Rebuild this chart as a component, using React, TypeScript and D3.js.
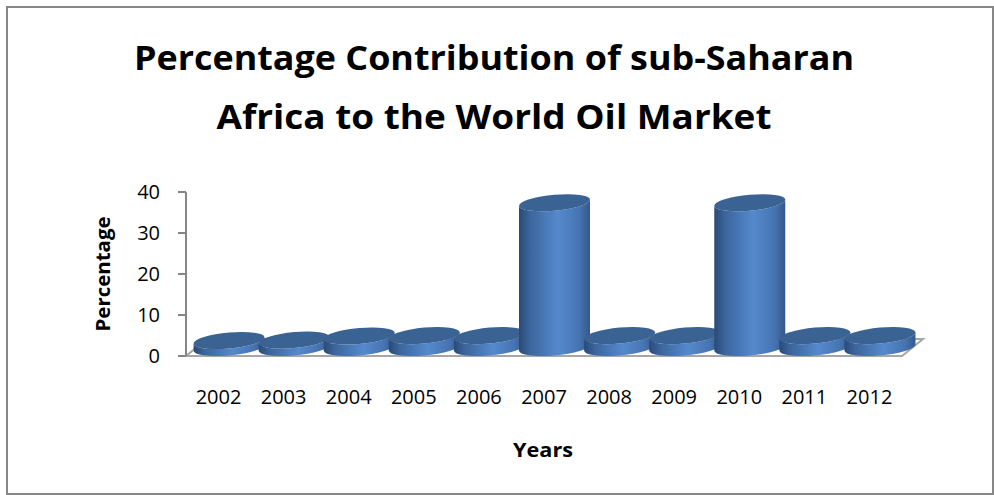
import React from "react";
import * as d3 from "d3";

const years = ["2002", "2003", "2004", "2005", "2006", "2007", "2008", "2009", "2010", "2011", "2012"];
const percentages = [1.7, 1.8, 2.8, 2.9, 2.9, 35.3, 2.9, 2.9, 35.3, 2.9, 2.9];
const yTicks = [0, 10, 20, 30, 40];
const titleLines = ["Percentage Contribution of sub-Saharan", "Africa to the World Oil Market"];
const titleWidths = [720, 555];

const W = 994;
const H = 495;
const FONT = "'Open Sans', 'Liberation Sans', sans-serif";

export default function App() {
  const x = d3.scaleBand<string>().domain(years).range([186, 902]).padding(0);
  const y = d3.scaleLinear().domain([0, 40]).range([356, 192]);
  const dx = 21;
  const dy = -17;
  const rx = 35.5;
  const ry = 8;
  const bw = x.bandwidth();

  const cyl = (v: number, i: number) => {
    const cx = (x(years[i]) as number) + bw / 2 + dx / 2;
    const baseY = y(0) + dy / 2;
    const h = y(0) - y(v);
    const side = `M${-rx},${-h} L${-rx},0 A${rx},${ry} 0 0 0 ${rx},0 L${rx},${-h} A${rx},${ry} 0 0 1 ${-rx},${-h} Z`;
    return (
      <g key={years[i]} transform={`translate(${cx},${baseY}) skewY(-5)`}>
        <path d={side} fill="url(#sideGrad)" />
        <ellipse cx={0} cy={-h} rx={rx} ry={ry} fill="#3a6293" />
      </g>
    );
  };

  const x0 = 186, x1 = 902, yb = y(0);
  const floor = `M${x0},${yb} L${x1},${yb} L${x1 + dx},${yb + dy} L${x0 + dx},${yb + dy} Z`;

  return (
    <svg width={W} height={H} style={{ position: "absolute", left: 0, top: 0, background: "#fff" }}>
      <defs>
        <linearGradient id="sideGrad" x1="0" x2="1" y1="0" y2="0">
          <stop offset="0%" stopColor="#2a4a76" />
          <stop offset="15%" stopColor="#3b659c" />
          <stop offset="55%" stopColor="#5589cd" />
          <stop offset="85%" stopColor="#4674b2" />
          <stop offset="100%" stopColor="#33588b" />
        </linearGradient>
      </defs>
      <rect x={7} y={7} width={986} height={487} fill="#fff" stroke="#878787" strokeWidth={2} />
      {titleLines.map((t, i) => (
        <text key={t} x={494} y={70 + i * 59} textAnchor="middle" fontFamily={FONT} fontWeight={700} fontSize={34}
          textLength={titleWidths[i]} lengthAdjust="spacingAndGlyphs" fill="#000">
          {t}
        </text>
      ))}
      <path d={floor} fill="#fff" stroke="#a6a6a6" strokeWidth={2} />
      <line x1={186} x2={186} y1={y(40)} y2={y(0)} stroke="#868686" strokeWidth={2} />
      {yTicks.map((t) => (
        <g key={t}>
          <line x1={178} x2={186} y1={y(t)} y2={y(t)} stroke="#868686" strokeWidth={2} />
          <text x={160} y={y(t) + 7} textAnchor="end" fontFamily={FONT} fontSize={20} fill="#000">
            {t}
          </text>
        </g>
      ))}
      {percentages.map((v, i) => cyl(v, i))}
      {years.map((yr) => (
        <text key={yr} x={(x(yr) as number) + bw / 2} y={404} textAnchor="middle" fontFamily={FONT} fontSize={20} fill="#000">
          {yr}
        </text>
      ))}
      <text x={543} y={457} textAnchor="middle" fontFamily={FONT} fontWeight={700} fontSize={20}
        textLength={60} lengthAdjust="spacingAndGlyphs" fill="#000">
        Years
      </text>
      <text transform={`translate(110,274) rotate(-90)`} textAnchor="middle" fontFamily={FONT} fontWeight={700} fontSize={20}
        textLength={115} lengthAdjust="spacingAndGlyphs" fill="#000">
        Percentage
      </text>
    </svg>
  );
}
